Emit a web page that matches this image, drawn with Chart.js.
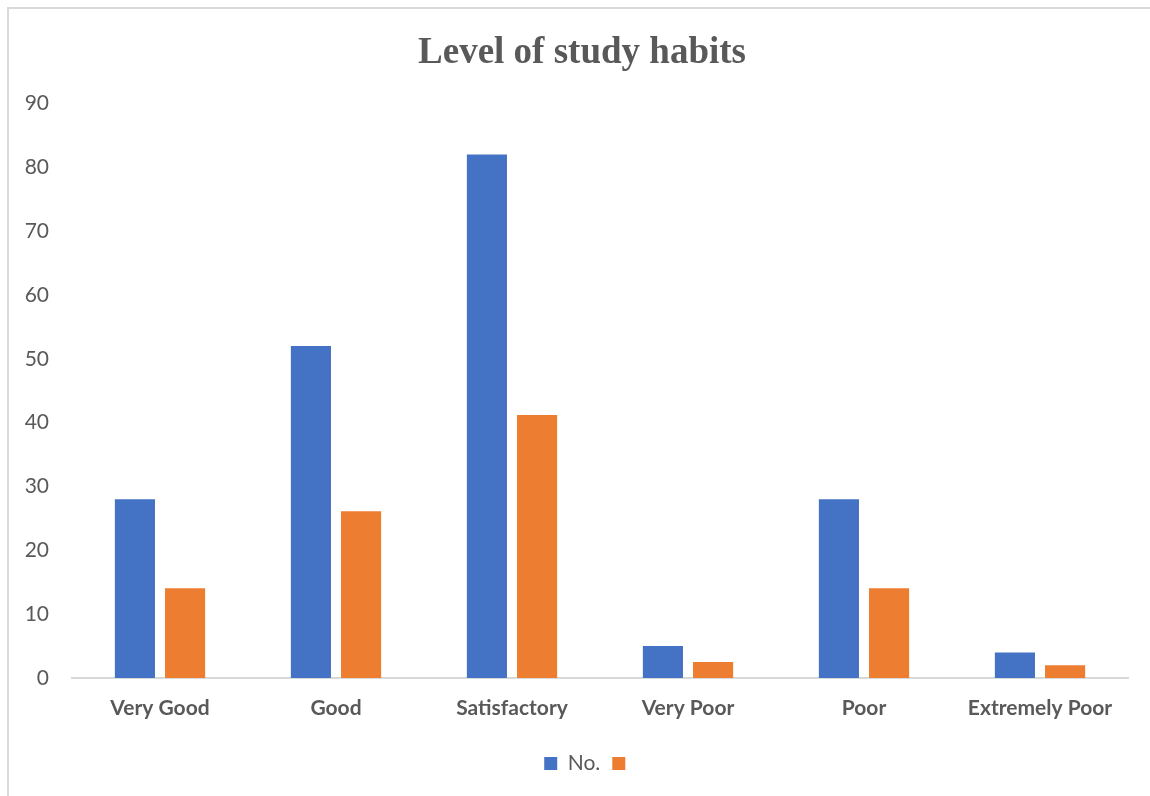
<!DOCTYPE html>
<html>
<head>
<meta charset="utf-8">
<script src="https://cdn.jsdelivr.net/npm/chart.js@4/dist/chart.umd.min.js"></script>
<style>
  html, body { margin: 0; padding: 0; background: #fff; }
  #frame {
    position: absolute; left: 7px; top: 7px; width: 1160px; height: 800px;
    border-top: 2px solid #d9d9d9; border-left: 2px solid #d9d9d9;
  }
  #wrap { position: absolute; left: 0; top: 0; width: 1150px; height: 796px; }
</style>
</head>
<body>
<div id="frame"></div>
<div id="wrap"><canvas id="chart"></canvas></div>
<script>
const categories = ['Very Good', 'Good', 'Satisfactory', 'Very Poor', 'Poor', 'Extremely Poor'];
const countValues = [28, 52, 82, 5, 28, 4];
const percentValues = [14.07, 26.13, 41.21, 2.51, 14.07, 2.01];
const yTicks = [0, 10, 20, 30, 40, 50, 60, 70, 80, 90];

const textGray = '#595959';

// nudge title and legend sideways so they sit where the original has them
const shiftBoxes = {
    id: 'shiftBoxes',
    afterLayout(chart) {
        const moves = [[chart.titleBlock, 8], [chart.legend, 16]];
        moves.forEach(([box, dx]) => {
            if (!box) return;
            box.left += dx;
            box.right += dx;
        });
    }
};

new Chart(document.getElementById('chart'), {
    type: 'bar',
    data: {
        labels: categories,
        datasets: [
            { label: 'No.', data: countValues, backgroundColor: '#4472C4' },
            { label: '', data: percentValues, backgroundColor: '#ED7D31' }
        ]
    },
    options: {
        responsive: true,
        maintainAspectRatio: false,
        animation: false,
        categoryPercentage: 0.57,
        barPercentage: 0.8,
        layout: { padding: { left: 20, right: 22, top: 0, bottom: 12 } },
        scales: {
            x: {
                grid: { display: false, drawTicks: false },
                border: { display: true, color: '#d9d9d9', width: 2 },
                ticks: {
                    color: textGray,
                    padding: 18,
                    font: { family: 'Lato', size: 21, weight: 'bold' }
                },
                afterFit: function(scale) { scale.height = 63; }
            },
            y: {
                min: 0,
                max: 90,
                afterBuildTicks: function(scale) {
                    scale.ticks = yTicks.map(v => ({ value: v }));
                },
                grid: { display: false, drawTicks: false },
                border: { display: false },
                ticks: {
                    color: textGray,
                    padding: 23,
                    font: { family: 'Lato', size: 21 }
                },
                afterFit: function(scale) { scale.width = 52; }
            }
        },
        plugins: {
            title: {
                display: true,
                text: 'Level of study habits',
                color: textGray,
                font: { family: "'Liberation Serif', 'Times New Roman', serif", size: 37, weight: 'bold' },
                padding: { top: 31, bottom: 28 }
            },
            legend: {
                position: 'bottom',
                labels: {
                    color: textGray,
                    boxWidth: 13,
                    boxHeight: 13,
                    padding: 12,
                    font: { family: 'Lato', size: 21 }
                }
            },
            tooltip: { enabled: false }
        }
    },
    plugins: [shiftBoxes]
});
</script>
</body>
</html>
